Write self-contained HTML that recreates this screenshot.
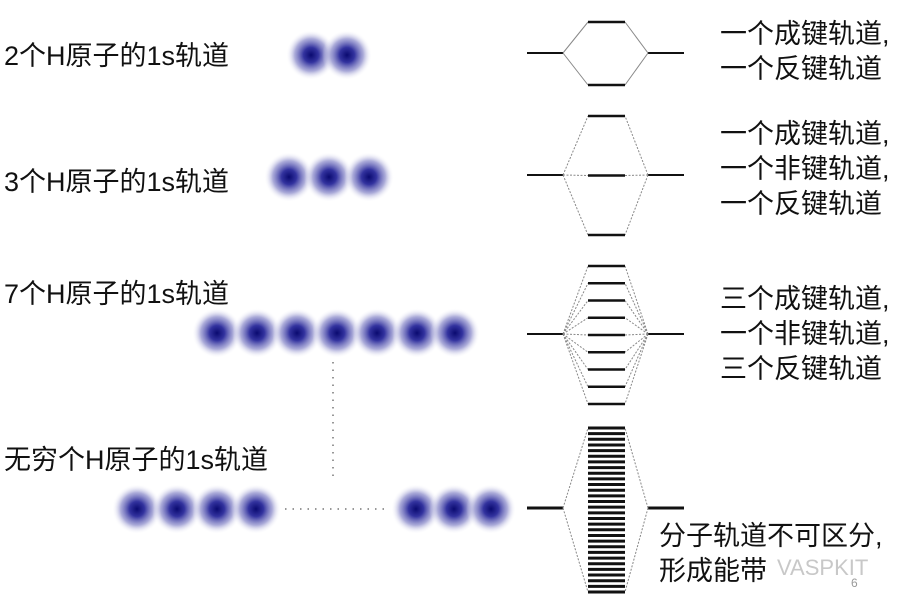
<!DOCTYPE html>
<html><head><meta charset="utf-8">
<style>
html,body{margin:0;padding:0;background:#fff;}
body{width:913px;height:600px;position:relative;overflow:hidden;font-family:"Liberation Sans","Noto Sans CJK SC",sans-serif;color:#111;}
.t{position:absolute;white-space:nowrap;}
.l{font-size:27px;line-height:31px;}
.r{font-size:27px;line-height:35px;}
</style></head>
<body>
<svg id="svg" width="913" height="600" style="position:absolute;left:0;top:0">
<defs>
<radialGradient id="orb">
<stop offset="0" stop-color="#0a0a70"/>
<stop offset="0.3" stop-color="#33339f"/>
<stop offset="0.65" stop-color="#8f8fcc" stop-opacity="0.75"/>
<stop offset="1" stop-color="#ffffff" stop-opacity="0"/>
</radialGradient>
</defs>
</svg>
<div class="t l" style="left:4px;top:41px">2个H原子的1s轨道</div>
<div class="t l" style="left:4px;top:167px">3个H原子的1s轨道</div>
<div class="t l" style="left:4px;top:279px">7个H原子的1s轨道</div>
<div class="t l" style="left:4px;top:445px">无穷个H原子的1s轨道</div>
<div class="t r" style="left:720px;top:17px">一个成键轨道,<br>一个反键轨道</div>
<div class="t r" style="left:720px;top:117px">一个成键轨道,<br>一个非键轨道,<br>一个反键轨道</div>
<div class="t r" style="left:720px;top:282px">三个成键轨道,<br>一个非键轨道,<br>三个反键轨道</div>
<div class="t r" style="left:659px;top:519px">分子轨道不可区分,<br>形成能带</div>
<div class="t" style="left:777px;top:555px;font-size:22px;color:#c8c8c8">VASPKIT</div>
<div class="t" style="left:851px;top:576px;font-size:12px;color:#999">6</div>
<script>
const orbitalsX = [[311,347],[289,329,369],[217,257,297,337,377,417,455],[137,177,217,256,416,454,491]];
const orbitalsY = [55,177,333,509];
const rowCenterY = [53,175,334,508];
const levelCounts = [2,3,9,30];
const levelTop = [22,116,266,428];
const levelBottom = [85,235,404,592];
const NS='http://www.w3.org/2000/svg';
const svg=document.getElementById('svg');
function mk(tag,attrs){const e=document.createElementNS(NS,tag);for(const k in attrs)e.setAttribute(k,attrs[k]);svg.appendChild(e);return e;}
orbitalsX.forEach((xs,i)=>xs.forEach(x=>{
  const c=mk('circle',{cx:x,cy:orbitalsY[i],r:25,fill:'url(#orb)'});
  
  
}));
let d=mk('line',{x1:333,y1:362,x2:333,y2:482,stroke:'#777','stroke-width':1.5,'stroke-dasharray':'1.5 6'});


d=mk('line',{x1:285,y1:509,x2:385,y2:509,stroke:'#777','stroke-width':1.5,'stroke-dasharray':'1.5 6'});


const Lx1=527,Lx2=563,Rx1=648,Rx2=684,lx1=588,lx2=625;
rowCenterY.forEach((cy,i)=>{
  const n=levelCounts[i];
  let s=mk('line',{x1:Lx1,y1:cy,x2:Lx2,y2:cy,stroke:'#111','stroke-width':i==3?3:2});
  
  
  s=mk('line',{x1:Rx1,y1:cy,x2:Rx2,y2:cy,stroke:'#111','stroke-width':i==3?3:2});
  
  
  const ys=[];
  for(let k=0;k<n;k++)ys.push(levelTop[i]+(levelBottom[i]-levelTop[i])*k/(n-1));
  const conn=(i==3)?[ys[0],ys[n-1]]:ys;
  conn.forEach(y=>{
    let c=mk('line',{x1:Lx2,y1:cy,x2:lx1,y2:y,stroke:'#888','stroke-width':1,'stroke-dasharray':i==0?'':'2 1.5'});
    
    
    c=mk('line',{x1:Rx1,y1:cy,x2:lx2,y2:y,stroke:'#888','stroke-width':1,'stroke-dasharray':i==0?'':'2 1.5'});
    
    
  });
  ys.forEach(y=>{
    const l=mk('line',{x1:lx1,y1:y,x2:lx2,y2:y,stroke:'#111','stroke-width':i==3?3:2.5});
    
    
  });
});
</script>
</body></html>
